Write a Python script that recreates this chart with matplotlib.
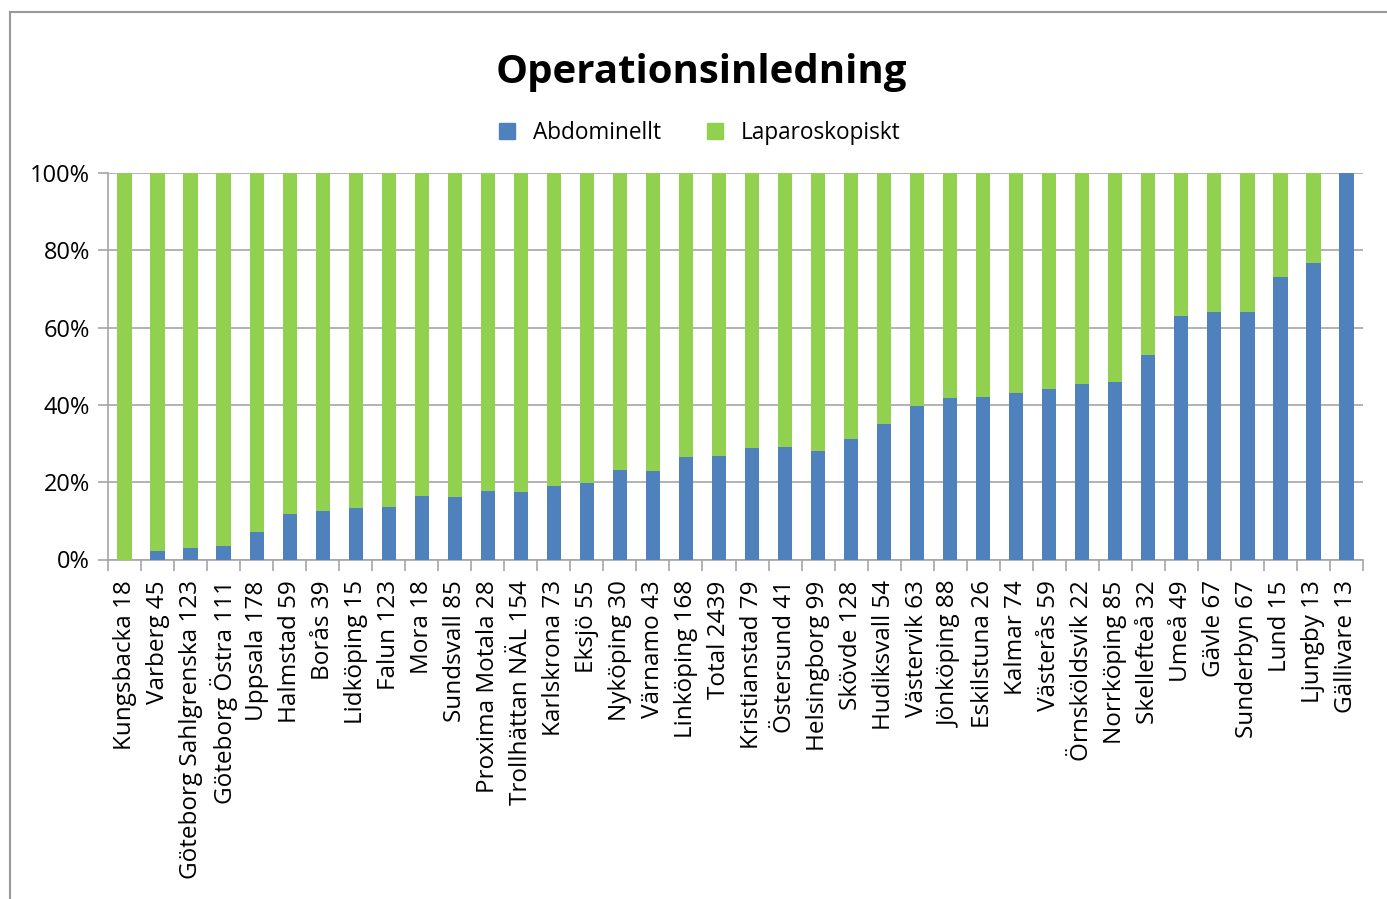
import matplotlib.pyplot as plt
import numpy as np
from matplotlib.lines import Line2D
from matplotlib.patches import Patch

plt.rcParams['font.family'] = ['Open Sans', 'DejaVu Sans']

# Kategorier (sjukhus + antal)
kategorier = ['Kungsbacka 18', 'Varberg 45', 'Göteborg Sahlgrenska 123', 'Göteborg Östra 111',
              'Uppsala 178', 'Halmstad 59', 'Borås 39', 'Lidköping 15', 'Falun 123', 'Mora 18',
              'Sundsvall 85', 'Proxima Motala 28', 'Trollhättan NÄL 154', 'Karlskrona 73',
              'Eksjö 55', 'Nyköping 30', 'Värnamo 43', 'Linköping 168', 'Total 2439',
              'Kristianstad 79', 'Östersund 41', 'Helsingborg 99', 'Skövde 128', 'Hudiksvall 54',
              'Västervik 63', 'Jönköping 88', 'Eskilstuna 26', 'Kalmar 74', 'Västerås 59',
              'Örnsköldsvik 22', 'Norrköping 85', 'Skellefteå 32', 'Umeå 49', 'Gävle 67',
              'Sunderbyn 67', 'Lund 15', 'Ljungby 13', 'Gällivare 13']

# Andel i procent
abdominellt = [0.0, 2.2, 3.0, 3.5, 7.2, 11.8, 12.6, 13.2, 13.7, 16.5,
               16.3, 17.8, 17.5, 19.1, 19.8, 23.2, 23.0, 26.6, 26.8,
               28.9, 29.2, 28.1, 31.2, 35.1, 39.6, 41.8, 42.1, 43.1, 44.0,
               45.3, 45.8, 53.0, 63.1, 64.1, 64.1, 73.2, 76.8, 100.0]
laparoskopiskt = [100.0, 97.8, 97.0, 96.5, 92.8, 88.2, 87.4, 86.8, 86.3, 83.5,
                  83.7, 82.2, 82.5, 80.9, 80.2, 76.8, 77.0, 73.4, 73.2,
                  71.1, 70.8, 71.9, 68.8, 64.9, 60.4, 58.2, 57.9, 56.9, 56.0,
                  54.7, 54.2, 47.0, 36.9, 35.9, 35.9, 26.8, 23.2, 0.0]

blå = '#4F81BD'
grön = '#92D050'
grå = '#A6A6A6'

fig = plt.figure(figsize=(13.87, 8.99), dpi=100)
ax = fig.add_axes([108 / 1387, (899 - 559.5) / 899, (1363 - 108) / 1387, (559.5 - 173) / 899])

x = np.arange(len(kategorier))
ax.bar(x, abdominellt, width=0.43, color=blå, zorder=3)
ax.bar(x, laparoskopiskt, width=0.43, bottom=abdominellt, color=grön, zorder=3)

ax.set_xlim(-0.5, len(kategorier) - 0.5)
ax.set_ylim(0, 100)
ax.set_yticks(np.arange(0, 101, 20))
ax.set_yticklabels([f'{v}%' for v in range(0, 101, 20)], fontsize=17)
ax.yaxis.grid(True, color=grå, linewidth=1.2, zorder=0)
ax.set_axisbelow(True)

ax.set_xticks(x)
ax.set_xticklabels(kategorier, rotation=90, fontsize=17.5)
ax.tick_params(axis='x', length=0, pad=15)
ax.set_xticks(np.arange(-0.5, len(kategorier)), minor=True)
ax.tick_params(axis='x', which='minor', length=8, color=grå, width=1.2)
ax.tick_params(axis='y', length=7, color=grå, width=1.2, pad=6)

for side in ['top', 'right']:
    ax.spines[side].set_visible(False)
ax.spines['left'].set_color(grå)
ax.spines['bottom'].set_color(grå)
ax.spines['left'].set_linewidth(1.2)
ax.spines['bottom'].set_linewidth(1.2)

fig.text(701 / 1387, 1 - 72 / 899, 'Operationsinledning', ha='center', va='center',
         fontsize=29, fontweight='bold')

handles = [Patch(color=blå, label='Abdominellt'), Patch(color=grön, label='Laparoskopiskt')]
fig.legend(handles=handles, loc='center', bbox_to_anchor=(700 / 1387, 1 - 133 / 899), ncol=2,
           frameon=False, fontsize=16.3, handlelength=0.7, handleheight=0.7,
           columnspacing=2.0, handletextpad=0.8)

# ram runt diagrammet
fig.add_artist(Line2D([10 / 1387, 10 / 1387], [0, 1 - 12 / 899], transform=fig.transFigure,
                      color='#999999', linewidth=1.5))
fig.add_artist(Line2D([10 / 1387, 1], [1 - 12 / 899, 1 - 12 / 899], transform=fig.transFigure,
                      color='#999999', linewidth=1.5))

fig.savefig('out.png', dpi=100)
